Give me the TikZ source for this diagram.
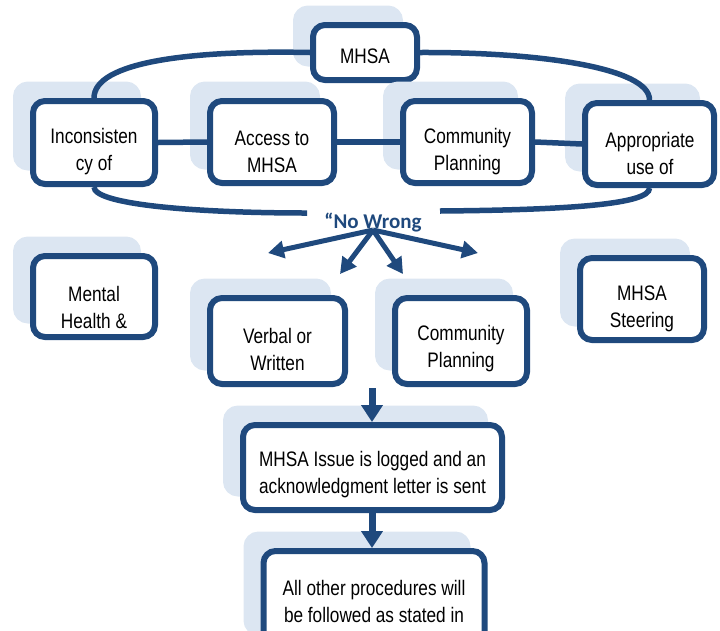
\documentclass[tikz,border=0pt]{standalone}
\usepackage{fontspec}
\setmainfont[FakeStretch=0.82]{Liberation Sans}
\newfontfamily\calib{Carlito}
\usetikzlibrary{arrows.meta,shadows}
\definecolor{dblue}{HTML}{1F497D}
\definecolor{lblue}{HTML}{DCE6F2}
\begin{document}
\begin{tikzpicture}[x=1pt,y=1pt,
  box/.style={draw=dblue, line width=6pt, fill=white, rounded corners=12pt, inner sep=0pt,
     general shadow={fill=lblue, draw=lblue, line width=6pt, shadow xshift=-17pt, shadow yshift=16.5pt}},
  txt/.style={font=\fontsize{21}{27}\selectfont, align=center, inner sep=0pt, text=black},
  conn/.style={draw=dblue, line width=5.5pt},
  arr/.style={draw=dblue, line width=5pt, -{Triangle[length=16pt,width=17pt]}},
  darr/.style={draw=dblue, line width=7pt, -{Triangle[length=17pt,width=21pt]}}]
\clip (0,0) rectangle (720,-630);
\useasboundingbox (0,0) rectangle (720,-630);

% boxes
\node[box, minimum width=104, minimum height=55] (mhsa) at (365,-52.5) {};
\node[box, minimum width=122, minimum height=83] (inc) at (94,-142.5) {};
\node[box, minimum width=124, minimum height=82] (acc) at (272,-142) {};
\node[box, minimum width=129, minimum height=82] (cp1) at (467.5,-142) {};
\node[box, minimum width=129, minimum height=82] (app) at (649.5,-144) {};
\node[box, minimum width=122, minimum height=81] (mh) at (94,-296.5) {};
\node[box, minimum width=135, minimum height=86] (vw) at (277.5,-341) {};
\node[box, minimum width=132, minimum height=86] (cp2) at (461,-341) {};
\node[box, minimum width=124, minimum height=82] (st) at (642,-299) {};
\node[box, minimum width=259, minimum height=85] (log) at (372.5,-467.5) {};
\node[box, minimum width=221, minimum height=98] (last) at (374,-600) {};

% texts
\node[txt] (mhsa-t) at (365,-56) {MHSA};
\node[txt] (inc-t) at (94,-152) {Inconsisten\\cy of};
\node[txt] (acc-t) at (272,-152) {Access to\\MHSA};
\node[txt] (cp1-t) at (467.5,-152) {Community\\Planning};
\node[txt] (app-t) at (650,-153) {Appropriate\\use of};
\node[txt] (mh-t) at (94,-307) {Mental\\Health \&};
\node[txt] (vw-t) at (277.5,-349) {Verbal or\\Written};
\node[txt] (cp2-t) at (461,-349) {Community\\Planning};
\node[txt] (st-t) at (642,-309) {MHSA\\Steering};
\node[txt] (log-t) at (372.5,-475) {MHSA Issue is logged and an\\acknowledgment letter is sent};
\node[txt] (last-t) at (374,-601) {All other procedures will\\be followed as stated in};

\node[font=\calib\bfseries\fontsize{21}{24}\selectfont, text=dblue, inner sep=0pt, anchor=base] (nw) at (373,-228) {“No Wrong};

% connectors
\draw[conn] (inc.east) -- (acc.west);
\draw[conn] (acc.east) -- (cp1.west);
\draw[conn] (cp1.east) -- (app.west);

\coordinate (gapL) at (307,-213);
\coordinate (gapR) at (440,-211);
\draw[conn] (inc.north) .. controls (94,-62) and (190,-50) .. (mhsa.west);
\draw[conn] (mhsa.east) .. controls (540,-52) and (650,-68) .. (app.north);
\draw[conn] (inc.south) .. controls (94,-205) and (200,-213) .. (gapL);
\draw[conn] (gapR) .. controls (560,-210) and (650,-205) .. (app.south);

\coordinate (hub) at (373,-230);
\coordinate (t1) at (268,-253);
\coordinate (t2) at (340,-274);
\coordinate (t3) at (403,-274);
\coordinate (t4) at (478,-253);
\draw[arr] (hub) -- (t1);
\draw[arr] (hub) -- (t2);
\draw[arr] (hub) -- (t3);
\draw[arr] (hub) -- (t4);

\coordinate (d1) at (372,-388);
\draw[darr] (d1) -- (d1 |- log.north);
\draw[darr] (d1 |- log.south) -- (d1 |- last.north);
\end{tikzpicture}
\end{document}
